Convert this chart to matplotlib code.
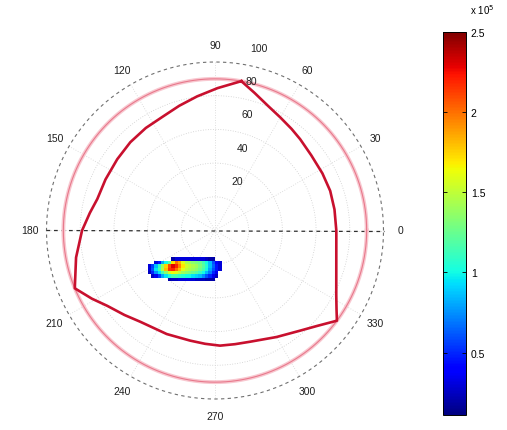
import numpy as np
import matplotlib
matplotlib.use("Agg")
import matplotlib.pyplot as plt
from matplotlib.colors import Normalize

plt.rcParams['font.family'] = ['Liberation Sans', 'DejaVu Sans']

# ---------------- data ----------------
rmax = 100
ring_values = [20, 40, 60, 80, 100]
angle_labels = [0, 30, 60, 90, 120, 150, 180, 210, 240, 270, 300, 330]
horizon_r = 90

# triangle (azimuth in degrees, radial value), read along each edge
edge_a_theta = [80, 74, 67, 60, 53, 47, 38, 28, 19, 10, 0, -10, -20, -28, -33, -36.5]
edge_a_r = [90, 85, 80.4, 77.5, 75.5, 74.1, 72.5, 72.2, 72.3, 72.0, 72.0, 73.1, 76.6, 81.5, 86, 90]
edge_c_theta = [-36.5, -43, -49.8, -60, -72.6, -80, -87.5, -95, -102.7, -115, -129.3, -137, -145, -151, -157.6]
edge_c_r = [90, 83, 77.9, 73.0, 69.2, 68.5, 68.4, 67.5, 67.0, 67.8, 70.0, 73.5, 78.0, 83.5, 90]
edge_b_theta = [202.4, 191, 180, 172, 165, 155, 143.9, 133.8, 124, 114.4, 106, 97.6, 89, 80]
edge_b_r = [90, 84, 78.9, 75.0, 72.3, 71.7, 71.8, 72.6, 73.4, 74.4, 77.0, 80.3, 84.5, 90]

# density blob (cartesian cells, 2 units each)
blob_x_edges = np.arange(-40, 6, 2)      # 23 edges -> 22 cols
blob_y_edges = np.arange(-30, -15, 2)    # 8 edges -> 7 rows (bottom to top)
blob_rows_top_to_bottom = [
    [0, 0, 0, 0, 0, 0, 0, .2, .3, .3, .3, .3, .3, .3, .3, .3, .3, .25, .2, .2, 0, 0],
    [0, 0, .3, .45, .8, 1.0, 1.2, 1.7, 2.0, 1.85, 1.6, 1.45, 1.4, 1.35, 1.3, 1.25, 1.15, 1.0, .85, .6, .4, .3],
    [.3, .55, .85, 1.1, 1.4, 1.75, 2.1, 2.3, 2.2, 1.95, 1.7, 1.55, 1.5, 1.45, 1.4, 1.3, 1.2, 1.05, .85, .65, .45, .3],
    [.3, .6, .95, 1.15, 1.45, 1.8, 2.15, 2.2, 2.0, 1.8, 1.6, 1.5, 1.45, 1.4, 1.35, 1.25, 1.15, 1.0, .8, .6, .45, .3],
    [.25, .5, .75, .95, 1.15, 1.35, 1.55, 1.65, 1.6, 1.5, 1.4, 1.35, 1.3, 1.25, 1.2, 1.1, 1.0, .85, .7, .5, .35, 0],
    [0, .25, .35, .55, .8, .95, 1.05, 1.15, 1.15, 1.1, 1.05, 1.0, 1.0, .95, .9, .85, .75, .6, .5, .35, .25, 0],
    [0, 0, 0, 0, 0, 0, .2, .25, .25, .3, .3, .3, .3, .3, .25, .25, .25, .2, .2, .2, 0, 0],
]
cbar_ticks = [0.5, 1, 1.5, 2, 2.5]
cbar_min, cbar_max = 0.11, 2.5

# ---------------- figure ----------------
W, H = 507, 431
fig = plt.figure(figsize=(W / 100, H / 100), dpi=100)
s = 1.685            # px per unit
cx, cy = 215, 231.5  # centre in px (from top-left)
axw = 430
ax = fig.add_axes([0, 0, axw / W, 1])
ax.set_xlim((0 - cx) / s, (axw - cx) / s)
ax.set_ylim((cy - H) / s, (cy - 0) / s)
ax.axis('off')

def pol2xy(theta_deg, r):
    t = np.deg2rad(np.asarray(theta_deg, float))
    r = np.asarray(r, float)
    return r * np.cos(t), r * np.sin(t)

tt = np.linspace(0, 360, 361)
# inner rings
for rv in ring_values[:-1]:
    x, y = pol2xy(tt, np.full_like(tt, rv))
    ax.plot(x, y, ls=(0, (1, 2)), color='#cccccc', lw=0.6, zorder=1)
# spokes
for a in angle_labels[:6]:
    x, y = pol2xy([a, a + 180], [rmax, rmax])
    ax.plot(x, y, ls=(0, (1, 2)), color='#d4d4d4', lw=0.6, zorder=1)
# outer ring
x, y = pol2xy(tt, np.full_like(tt, rmax))
ax.plot(x, y, ls=(0, (3, 3)), color='#707070', lw=0.8, zorder=2)

# angle labels
for a in angle_labels:
    x, y = pol2xy(a, 1.1 * rmax)
    ax.text(x, y, str(a), ha='center', va='center', fontsize=7.5, color='#202020')
# ring labels near 82 degrees
for rv in ring_values:
    x, y = pol2xy(82, rv)
    ax.annotate(str(rv), (x, y), xytext=(12, 16), textcoords='offset pixels',
                ha='left', va='center', fontsize=7.5, color='#202020', zorder=6)

# horizontal dashed black line
x, y = pol2xy([180, 0], [rmax, rmax])
ax.plot(x, y, ls=(0, (3, 3)), color='#303030', lw=0.9, zorder=3)

# horizon circle (pink)
x, y = pol2xy(tt, np.full_like(tt, horizon_r))
ax.plot(x, y, color='#f8c8d0', lw=2.8, zorder=3)
ax.plot(x, y, color='#e8798c', lw=0.8, zorder=3)

# triangle
tri_theta = edge_a_theta + edge_c_theta[1:] + edge_b_theta[1:]
tri_r = edge_a_r + edge_c_r[1:] + edge_b_r[1:]
x, y = pol2xy(tri_theta, tri_r)
ax.plot(x, y, color='#c8102e', lw=1.9, zorder=4, solid_joinstyle='round')

# blob
Z = np.array(blob_rows_top_to_bottom[::-1], float)
Zm = np.ma.masked_where(Z <= 0, Z)
norm = Normalize(vmin=cbar_min, vmax=cbar_max)
im = ax.pcolormesh(blob_x_edges, blob_y_edges, Zm, cmap='jet', norm=norm, zorder=5)

# colorbar
cax = fig.add_axes([443 / W, (H - 416) / H, 23 / W, 383 / H])
cb = fig.colorbar(im, cax=cax, ticks=cbar_ticks)
cb.ax.set_yticklabels(['0.5', '1', '1.5', '2', '2.5'])
cb.ax.tick_params(labelsize=7.5, length=3, width=0.6, direction='in', right=True, left=True)
cb.outline.set_linewidth(0.7)
fig.text(470 / W, (H - 10) / H, r'x 10$^{5}$', fontsize=7, ha='left', va='center')

fig.savefig('out.png', dpi=100)
